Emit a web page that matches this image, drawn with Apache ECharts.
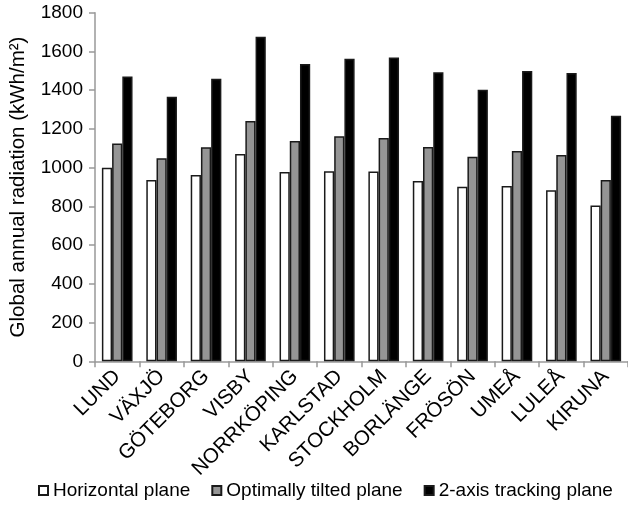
<!DOCTYPE html>
<html><head><meta charset="utf-8">
<script src="https://cdn.jsdelivr.net/npm/echarts@6/dist/echarts.min.js"></script>
<style>html,body{margin:0;padding:0;background:#fff}#c{width:628px;height:510px}</style>
</head><body><div id="c"></div>
<script>
const categories = ['LUND','VÄXJÖ','GÖTEBORG','VISBY','NORRKÖPING','KARLSTAD','STOCKHOLM','BORLÄNGE','FRÖSÖN','UMEÅ','LULEÅ','KIRUNA'];
const horizontal = [1000, 936, 962, 1070, 977, 981, 980, 931, 901, 905, 883, 805];
const tilted = [1125, 1048, 1105, 1241, 1137, 1162, 1153, 1106, 1056, 1086, 1065, 936];
const tracking = [1471, 1366, 1459, 1676, 1535, 1562, 1569, 1492, 1402, 1499, 1488, 1268];
const yTicks = [0, 200, 400, 600, 800, 1000, 1200, 1400, 1600, 1800];
const seriesNames = ['Horizontal plane', 'Optimally tilted plane', '2-axis tracking plane'];

const font = "'Liberation Sans', Arial, sans-serif";
const chart = echarts.init(document.getElementById('c'), null, {renderer: 'canvas'});
function bar(name, data, color) {
  return {
    name, type: 'bar', data,
    barGap: '0%', barCategoryGap: '31%',
    itemStyle: {color, borderColor: '#1a1a1a', borderWidth: 1.5},
    emphasis: {disabled: true}
  };
}
chart.setOption({
  animation: false,
  grid: {left: 93, top: 12.7, width: 539, height: 348.6, containLabel: false},
  legend: {
    top: 481, left: 38, padding: 0,
    icon: 'rect', itemWidth: 9, itemHeight: 9, itemGap: 21,
    textStyle: {fontFamily: font, fontSize: 19, color: '#000'},
    data: seriesNames
  },
  xAxis: {
    type: 'category', data: categories,
    axisLine: {lineStyle: {color: '#999', width: 1.5}},
    axisTick: {show: true, length: 6, lineStyle: {color: '#999', width: 1.5}},
    axisLabel: {rotate: 45, interval: 0, fontFamily: font, fontSize: 20.5, color: '#000', margin: 12}
  },
  yAxis: {
    type: 'value', min: yTicks[0], max: yTicks[yTicks.length - 1], interval: 200,
    name: 'Global annual radiation (kWh/m²)', nameLocation: 'middle', nameGap: 66,
    nameTextStyle: {fontFamily: font, fontSize: 20.5, color: '#000'},
    axisLine: {show: true, lineStyle: {color: '#999', width: 1.5}},
    axisTick: {show: true, length: 6, lineStyle: {color: '#999', width: 1.5}},
    splitLine: {show: false},
    axisLabel: {fontFamily: font, fontSize: 19, color: '#000', margin: 12, formatter: v => String(v)}
  },
  series: [
    bar(seriesNames[0], horizontal, '#ffffff'),
    bar(seriesNames[1], tilted, '#959595'),
    bar(seriesNames[2], tracking, '#000000')
  ]
});
</script></body></html>
